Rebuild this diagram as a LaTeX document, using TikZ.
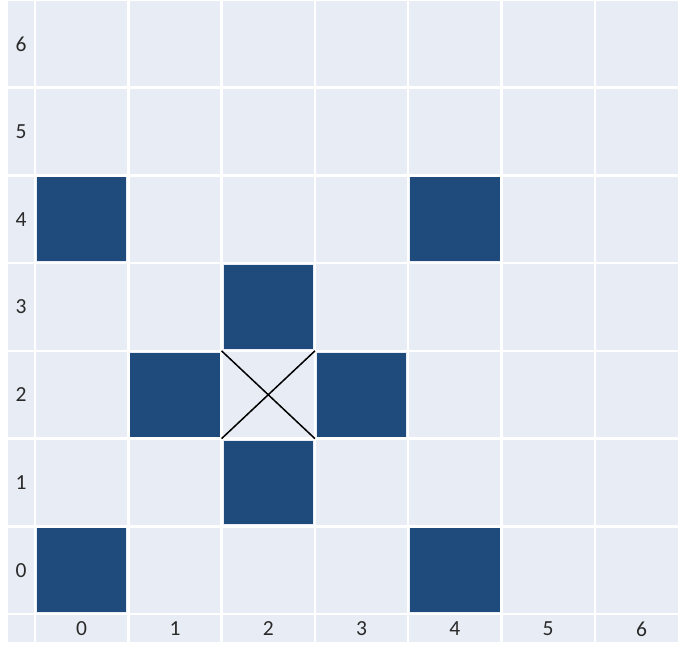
\documentclass[tikz,border=0pt]{standalone}
\usepackage{fontspec}
\setmainfont{Carlito}
\definecolor{cellbg}{HTML}{E8ECF4}
\definecolor{darkcell}{HTML}{1F4A7C}
\definecolor{labelc}{HTML}{2A2A2A}
\begin{document}
\begin{tikzpicture}[x=1pt,y=-1pt,
  lightcell/.style={fill=cellbg},
  filled/.style={fill=darkcell},
  axislabel/.style={text=labelc,font=\fontsize{21.5}{25}\selectfont,inner sep=0pt},
  cross/.style={black,line width=1.5pt}]
\useasboundingbox (0,0) rectangle (678,647);
\fill[white] (0,0) rectangle (678,647);
% row label column
\foreach \r in {0,...,6}{
  \pgfmathsetmacro{\ya}{614-(\r+1)*87.71+1.25}
  \pgfmathsetmacro{\yb}{614-\r*87.71-1.25}
  \pgfmathsetmacro{\ym}{614-(\r+0.5)*87.71}
  \fill[lightcell] (8,\ya) rectangle (34,\yb);
  \node[axislabel] (rl\r) at (21,\ym) {\r};
}
\fill[lightcell] (8,615.25) rectangle (34,642);
% cells
\foreach \c in {0,...,6}{
  \pgfmathsetmacro{\xa}{35+\c*93.3+1.25}
  \pgfmathsetmacro{\xb}{min(35+(\c+1)*93.3-1.25,678)}
  \pgfmathsetmacro{\xm}{35+(\c+0.5)*93.3}
  \foreach \r in {0,...,6}{
    \pgfmathsetmacro{\ya}{614-(\r+1)*87.71+1.25}
    \pgfmathsetmacro{\yb}{614-\r*87.71-1.25}
    \fill[lightcell] (\xa,\ya) rectangle (\xb,\yb);
  }
  \fill[lightcell] (\xa,615.25) rectangle (\xb,642);
  \node[axislabel] (cl\c) at (\xm,629) {\c};
}
% dark cells
\foreach \c/\r in {0/0,4/0,0/4,4/4,2/1,2/3,1/2,3/2}{
  \pgfmathsetmacro{\xa}{35+\c*93.3+2}
  \pgfmathsetmacro{\xb}{35+(\c+1)*93.3-2}
  \pgfmathsetmacro{\ya}{614-(\r+1)*87.71+2}
  \pgfmathsetmacro{\yb}{614-\r*87.71-2}
  \fill[filled] (\xa,\ya) rectangle (\xb,\yb);
}
% cross in cell (2,2)
\coordinate (xnw) at (221.6,350.9);
\coordinate (xse) at (314.9,438.6);
\coordinate (xne) at (314.9,350.9);
\coordinate (xsw) at (221.6,438.6);
\draw[cross] (xnw) -- (xse);
\draw[cross] (xne) -- (xsw);
\end{tikzpicture}
\end{document}
